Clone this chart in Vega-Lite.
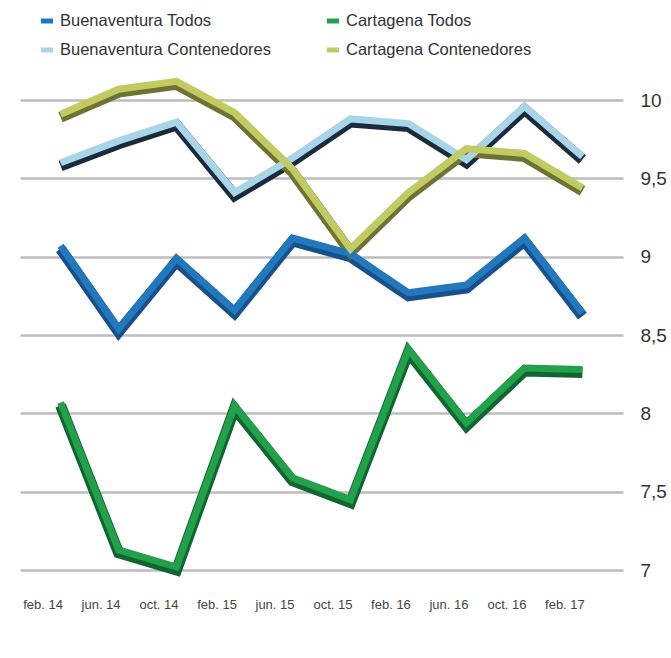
{
  "$schema": "https://vega.github.io/schema/vega-lite/v6.json",
  "width": 603,
  "height": 470,
  "autosize": {"type": "none"},
  "padding": {"left": 20, "top": 100, "right": 48, "bottom": 88},
  "background": "white",
  "config": {"view": {"stroke": null}, "font": "Liberation Sans, Arial, sans-serif"},
  "data": {
    "values": [
      {"mes": "feb. 14", "serie": "Buenaventura Todos", "valor": 9.05},
      {"mes": "jun. 14", "serie": "Buenaventura Todos", "valor": 8.52},
      {"mes": "oct. 14", "serie": "Buenaventura Todos", "valor": 8.97},
      {"mes": "feb. 15", "serie": "Buenaventura Todos", "valor": 8.64},
      {"mes": "jun. 15", "serie": "Buenaventura Todos", "valor": 9.1},
      {"mes": "oct. 15", "serie": "Buenaventura Todos", "valor": 9.0},
      {"mes": "feb. 16", "serie": "Buenaventura Todos", "valor": 8.75},
      {"mes": "jun. 16", "serie": "Buenaventura Todos", "valor": 8.8},
      {"mes": "oct. 16", "serie": "Buenaventura Todos", "valor": 9.1},
      {"mes": "feb. 17", "serie": "Buenaventura Todos", "valor": 8.62},
      {"mes": "feb. 14", "serie": "Cartagena Todos", "valor": 8.05},
      {"mes": "jun. 14", "serie": "Cartagena Todos", "valor": 7.11},
      {"mes": "oct. 14", "serie": "Cartagena Todos", "valor": 7.0},
      {"mes": "feb. 15", "serie": "Cartagena Todos", "valor": 8.03},
      {"mes": "jun. 15", "serie": "Cartagena Todos", "valor": 7.57},
      {"mes": "oct. 15", "serie": "Cartagena Todos", "valor": 7.43},
      {"mes": "feb. 16", "serie": "Cartagena Todos", "valor": 8.39},
      {"mes": "jun. 16", "serie": "Cartagena Todos", "valor": 7.92},
      {"mes": "oct. 16", "serie": "Cartagena Todos", "valor": 8.27},
      {"mes": "feb. 17", "serie": "Cartagena Todos", "valor": 8.26},
      {"mes": "feb. 14", "serie": "Buenaventura Contenedores", "valor": 9.58},
      {"mes": "jun. 14", "serie": "Buenaventura Contenedores", "valor": 9.72},
      {"mes": "oct. 14", "serie": "Buenaventura Contenedores", "valor": 9.84},
      {"mes": "feb. 15", "serie": "Buenaventura Contenedores", "valor": 9.39},
      {"mes": "jun. 15", "serie": "Buenaventura Contenedores", "valor": 9.61},
      {"mes": "oct. 15", "serie": "Buenaventura Contenedores", "valor": 9.86},
      {"mes": "feb. 16", "serie": "Buenaventura Contenedores", "valor": 9.83},
      {"mes": "jun. 16", "serie": "Buenaventura Contenedores", "valor": 9.6},
      {"mes": "oct. 16", "serie": "Buenaventura Contenedores", "valor": 9.94},
      {"mes": "feb. 17", "serie": "Buenaventura Contenedores", "valor": 9.62},
      {"mes": "feb. 14", "serie": "Cartagena Contenedores", "valor": 9.89},
      {"mes": "jun. 14", "serie": "Cartagena Contenedores", "valor": 10.05},
      {"mes": "oct. 14", "serie": "Cartagena Contenedores", "valor": 10.1},
      {"mes": "feb. 15", "serie": "Cartagena Contenedores", "valor": 9.9},
      {"mes": "jun. 15", "serie": "Cartagena Contenedores", "valor": 9.54},
      {"mes": "oct. 15", "serie": "Cartagena Contenedores", "valor": 9.03},
      {"mes": "feb. 16", "serie": "Cartagena Contenedores", "valor": 9.39},
      {"mes": "jun. 16", "serie": "Cartagena Contenedores", "valor": 9.67},
      {"mes": "oct. 16", "serie": "Cartagena Contenedores", "valor": 9.64},
      {"mes": "feb. 17", "serie": "Cartagena Contenedores", "valor": 9.42}
    ]
  },
  "encoding": {
    "x": {
      "field": "mes",
      "type": "ordinal",
      "sort": ["feb. 14", "jun. 14", "oct. 14", "feb. 15", "jun. 15", "oct. 15", "feb. 16", "jun. 16", "oct. 16", "feb. 17"],
      "scale": {"type": "point", "padding": 0.7},
      "axis": {
        "title": null,
        "domain": false,
        "ticks": false,
        "grid": false,
        "labelAngle": 0,
        "labelFontSize": 13,
        "labelColor": "#444444",
        "labelPadding": 28,
        "labelOffset": -18
      }
    },
    "y": {
      "field": "valor",
      "type": "quantitative",
      "scale": {"domain": [7, 10], "nice": false, "zero": false},
      "axis": {
        "orient": "right",
        "title": null,
        "domain": false,
        "ticks": false,
        "values": [7, 7.5, 8, 8.5, 9, 9.5, 10],
        "grid": true,
        "gridColor": "#bdbdbd",
        "gridWidth": 2.5,
        "labelFontSize": 19,
        "labelColor": "#333333",
        "labelPadding": 17,
        "labelExpr": "replace(format(datum.value, '.1~f'), '.', ',')"
      }
    }
  },
  "layer": [
    {
      "mark": {"type": "line", "strokeWidth": 11, "strokeJoin": "miter", "strokeCap": "butt"},
      "encoding": {
        "color": {
          "field": "serie",
          "type": "nominal",
          "scale": {
            "domain": ["Buenaventura Todos", "Buenaventura Contenedores", "Cartagena Todos", "Cartagena Contenedores"],
            "range": ["#17508a", "#1b2b3e", "#0f6630", "#6e7232"]
          },
          "legend": null
        }
      }
    },
    {
      "mark": {"type": "line", "strokeWidth": 7, "yOffset": -3, "strokeJoin": "miter", "strokeCap": "butt"},
      "encoding": {
        "color": {
          "field": "serie",
          "type": "nominal",
          "scale": {
            "domain": ["Buenaventura Todos", "Buenaventura Contenedores", "Cartagena Todos", "Cartagena Contenedores"],
            "range": ["#2178bd", "#a9d5e8", "#22a04a", "#c2ca62"]
          },
          "legend": {
            "title": null,
            "orient": "none",
            "legendX": 18,
            "legendY": -88,
            "columns": 2,
            "columnPadding": 45,
            "rowPadding": 9,
            "symbolType": "stroke",
            "symbolStrokeWidth": 5,
            "symbolSize": 150,
            "labelFontSize": 16.5,
            "labelColor": "#333333",
            "labelLimit": 400
          }
        }
      }
    }
  ],
  "resolve": {"scale": {"color": "independent"}}
}
